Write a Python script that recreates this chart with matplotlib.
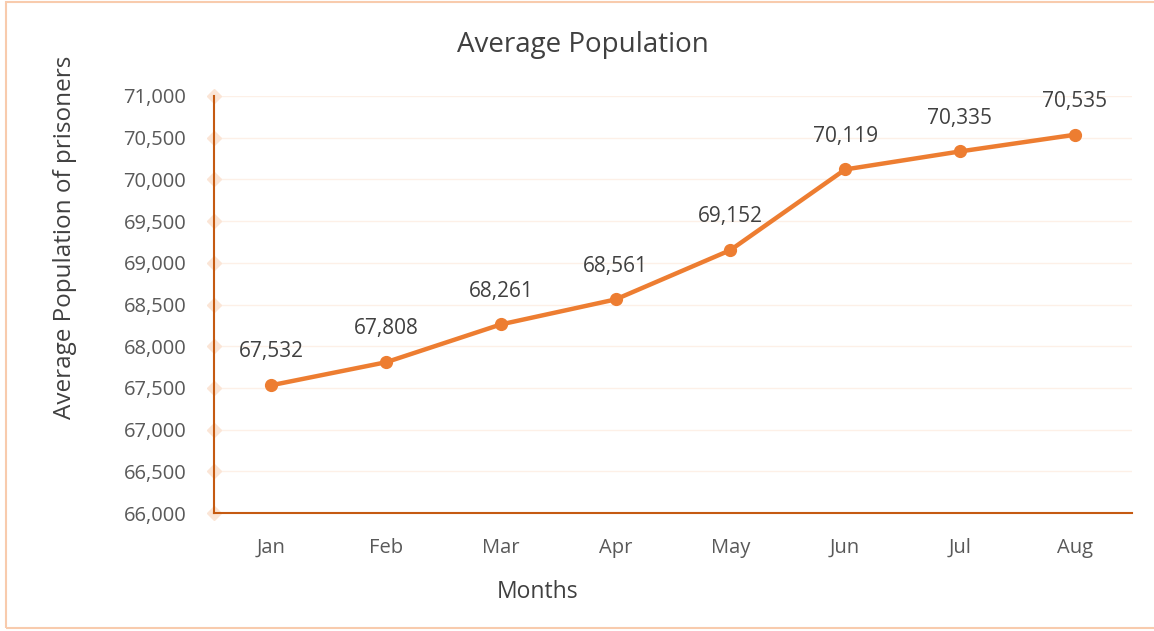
import matplotlib.pyplot as plt
from matplotlib.patches import Rectangle

months = ['Jan', 'Feb', 'Mar', 'Apr', 'May', 'Jun', 'Jul', 'Aug']
population = [67532, 67808, 68261, 68561, 69152, 70119, 70335, 70535]
yticks = list(range(66000, 71001, 500))

plt.rcParams['font.family'] = ['Open Sans', 'DejaVu Sans']

fig = plt.figure(figsize=(11.54, 6.31), dpi=100)
ax = fig.add_axes([214 / 1154, 118 / 631, 918 / 1154, 417 / 631])

# outer frame
fig.patches.append(Rectangle((6 / 1154, 3 / 631), 1.2, 626 / 631, transform=fig.transFigure,
                             fill=False, edgecolor='#F8CBAD', linewidth=1.5))

x = list(range(len(months)))
ax.plot(x, population, color='#ED7D31', linewidth=3.2, marker='o', markersize=8.5, zorder=4)
for xi, v in zip(x, population):
    ax.annotate(f'{v:,}', (xi, v), xytext=(0, 24), textcoords='offset points',
                ha='center', va='center', fontsize=15, color='#404040')

ax.set_xlim(-0.5, 7.5)
ax.set_ylim(66000, 71000)
ax.set_xticks(x)
ax.set_xticklabels(months)
ax.set_yticks(yticks)
ax.set_yticklabels([f'{t:,}' for t in yticks])
ax.tick_params(length=0, labelsize=14.5, labelcolor='#595959')
ax.tick_params(axis='y', pad=20)
ax.tick_params(axis='x', pad=18)

ax.grid(axis='y', color='#FDF0E7', linewidth=1)
ax.set_axisbelow(True)
for s in ['top', 'right']:
    ax.spines[s].set_visible(False)
for s in ['left', 'bottom']:
    ax.spines[s].set_color('#C55A11')
    ax.spines[s].set_linewidth(1.5)
    ax.spines[s].set_zorder(3)

# diamond markers along the value axis
ax.plot([-0.5] * len(yticks), yticks, linestyle='none', marker='D', markersize=7,
        color='#FBE5D6', clip_on=False, zorder=2)

fig.text(583 / 1154, 1 - 45 / 631, 'Average Population', fontsize=20, color='#404040',
         ha='center', va='center')
fig.text(538 / 1154, 1 - 592 / 631, 'Months', fontsize=16.5, color='#404040',
         ha='center', va='center')
fig.text(65 / 1154, 1 - 237 / 631, 'Average Population of prisoners', fontsize=17.5,
         color='#404040', ha='center', va='center', rotation=90)

fig.savefig('out.png', dpi=100)
